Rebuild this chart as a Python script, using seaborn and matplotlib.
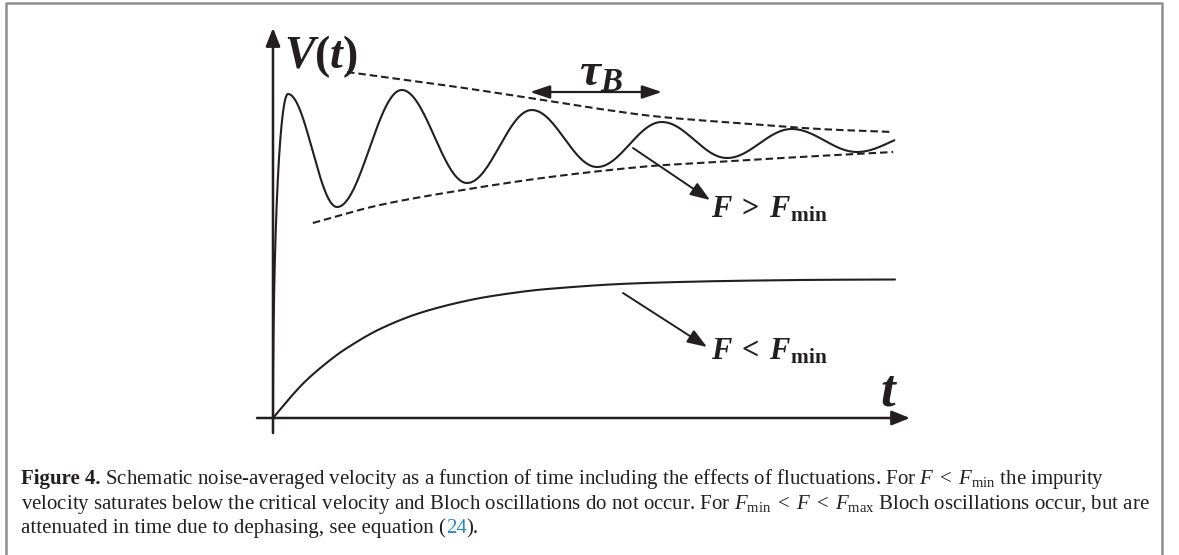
import numpy as np
import matplotlib
matplotlib.use("Agg")
import matplotlib.pyplot as plt
import seaborn as sns
from matplotlib.patches import FancyArrowPatch
from matplotlib.lines import Line2D

# ---------------- data (schematic units: t = time, V = velocity) ----------------
# extrema of the damped Bloch oscillation (F > F_min)
osc_t = [0.00, 0.24, 1.03, 2.07, 3.12, 4.16, 5.21, 6.25, 7.30, 8.34, 9.39, 10.43]
osc_v = [0.00, 3.24, 2.11, 3.28, 2.35, 3.08, 2.51, 2.96, 2.60, 2.89, 2.66, 2.85]
osc_end_t = 10.0

# dashed envelopes
upper_env_t = [1.19, 2.85, 4.13, 5.26, 6.25, 7.67, 8.79, 9.97]
upper_env_v = [3.46, 3.32, 3.20, 3.09, 3.01, 2.94, 2.89, 2.86]
lower_env_t = [0.64, 1.72, 3.05, 4.45, 5.90, 6.86, 8.47, 9.97]
lower_env_v = [1.95, 2.13, 2.28, 2.41, 2.51, 2.55, 2.61, 2.66]

# saturating velocity (F < F_min)
sat_t = [0.00, 0.27, 0.55, 0.92, 1.24, 1.72, 2.36, 3.17, 3.97, 4.61, 5.58, 6.86, 8.47, 10.00]
sat_v = [0.00, 0.20, 0.385, 0.58, 0.72, 0.89, 1.05, 1.18, 1.26, 1.30, 1.34, 1.365, 1.38, 1.385]

# labels
y_label = r"$\mathbfit{V}\mathbf{(}\mathbfit{t}\mathbf{)}$"
x_label = "t"
period_label = r"$\mathbfit{\tau}_{\mathbfit{B}}$"
label_above = r"$\mathbfit{F}\;\mathbf{>}\;\mathbfit{F}_{\mathbf{min}}$"
label_below = r"$\mathbfit{F}\;\mathbf{<}\;\mathbfit{F}_{\mathbf{min}}$"

caption_lines = [
    [("Figure 4.", "bold", None),
     (" Schematic noise-averaged velocity as a function of time including the effects of fluctuations. For $F\\;<\\;F_{\\rm min}$ the impurity", "normal", None)],
    [("velocity saturates below the critical velocity and Bloch oscillations do not occur. For $F_{\\rm min}\\;<\\;F\\;<\\;F_{\\rm max}$ Bloch oscillations occur, but are", "normal", None)],
    [("attenuated in time due to dephasing, see equation (", "normal", None),
     ("24", "normal", "#2a86c8"),
     (").", "normal", None)],
]

# ---------------- style ----------------
sns.set_theme(style="white")
plt.rcParams["font.family"] = ["Liberation Serif", "DejaVu Serif"]
plt.rcParams["mathtext.fontset"] = "custom"
plt.rcParams["mathtext.rm"] = "Liberation Serif"
plt.rcParams["mathtext.it"] = "Liberation Serif:italic"
plt.rcParams["mathtext.bf"] = "Liberation Serif:bold"
try:
    plt.rcParams["mathtext.bfit"] = "Liberation Serif:italic:bold"
except Exception:
    pass

INK = "#231f20"
W, H = 1179, 555
X0, Y0, SX, SY = 273.0, 418.0, 62.2, 100.0   # layout of the drawing area


def P(x, y):
    """pixel layout position -> data coordinates"""
    return ((x - X0) / SX, (Y0 - y) / SY)


def osc_curve(ts, vs, t_end, n=60):
    xs, ys = [], []
    # steep initial rise (vertical start, horizontal at first peak)
    s = np.linspace(0, 1, n)
    xs += list(ts[0] + (ts[1] - ts[0]) * (1 - np.cos(s * np.pi / 2)))
    ys += list(vs[0] + (vs[1] - vs[0]) * np.sin(s * np.pi / 2))
    for i in range(1, len(ts) - 1):
        s = np.linspace(0, 1, n)[1:]
        tt = ts[i] + (ts[i + 1] - ts[i]) * s
        vv = vs[i] + (vs[i + 1] - vs[i]) * (1 - np.cos(np.pi * s)) / 2
        xs += list(tt)
        ys += list(vv)
    xs, ys = np.array(xs), np.array(ys)
    keep = xs <= t_end
    return xs[keep], ys[keep]


def smooth(ts, vs, n=30):
    p = np.column_stack([ts, vs]).astype(float)
    p = np.vstack([2 * p[0] - p[1], p, 2 * p[-1] - p[-2]])
    out = []
    for i in range(1, len(p) - 2):
        p0, p1, p2, p3 = p[i - 1], p[i], p[i + 1], p[i + 2]
        for u in np.linspace(0, 1, n, endpoint=False):
            out.append(0.5 * ((2 * p1) + (-p0 + p2) * u + (2 * p0 - 5 * p1 + 4 * p2 - p3) * u ** 2
                              + (-p0 + 3 * p1 - 3 * p2 + p3) * u ** 3))
    out.append(p[-2])
    out = np.array(out)
    return out[:, 0], out[:, 1]


fig = plt.figure(figsize=(W / 100, H / 100), dpi=100)
ax = fig.add_axes([0, 0, 1, 1])
ax.set_xlim(-X0 / SX, (W - X0) / SX)
ax.set_ylim((Y0 - H) / SY, Y0 / SY)
ax.axis("off")

# curves
ox, oy = osc_curve(osc_t, osc_v, osc_end_t)
sns.lineplot(x=ox, y=oy, ax=ax, sort=False, estimator=None, color=INK, lw=1.5)
ux, uy = smooth(upper_env_t, upper_env_v)
sns.lineplot(x=ux, y=uy, ax=ax, sort=False, estimator=None, color=INK, lw=1.5,
             linestyle=(0, (3.6, 1.9)))
lx, ly = smooth(lower_env_t, lower_env_v)
sns.lineplot(x=lx, y=ly, ax=ax, sort=False, estimator=None, color=INK, lw=1.5,
             linestyle=(0, (3.6, 1.9)))
sx_, sy_ = smooth(sat_t, sat_v)
sns.lineplot(x=sx_, y=sy_, ax=ax, sort=False, estimator=None, color=INK, lw=1.5)

# axes with arrows
ax_style = "-|>,head_length=0.55,head_width=0.22"
ax.add_patch(FancyArrowPatch(P(X0, 433), P(X0, 28), arrowstyle=ax_style, mutation_scale=20,
                             color=INK, lw=1.8, shrinkA=0, shrinkB=0))
ax.add_patch(FancyArrowPatch(P(257, Y0), P(910, Y0), arrowstyle=ax_style, mutation_scale=20,
                             color=INK, lw=1.8, shrinkA=0, shrinkB=0))

# tau_B double arrow
ax.add_patch(FancyArrowPatch(P(530, 92), P(662, 92),
                             arrowstyle="<|-|>,head_length=0.6,head_width=0.2", mutation_scale=20,
                             color=INK, lw=1.6, shrinkA=0, shrinkB=0))
# pointer arrows
arr = "-|>,head_length=0.6,head_width=0.22"
ax.add_patch(FancyArrowPatch(P(633, 148), P(710, 200), arrowstyle=arr, mutation_scale=20,
                             color=INK, lw=1.4, shrinkA=0, shrinkB=0))
ax.add_patch(FancyArrowPatch(P(623, 293), P(707, 347), arrowstyle=arr, mutation_scale=20,
                             color=INK, lw=1.4, shrinkA=0, shrinkB=0))

# labels
ax.text(*P(284, 68), y_label, fontsize=33, color=INK, ha="left", va="baseline")
ax.text(*P(579, 86), period_label, fontsize=34, color=INK, ha="left", va="baseline")
ax.text(*P(711, 218), label_above, fontsize=22, color=INK, ha="left", va="baseline")
ax.text(*P(711, 360), label_below, fontsize=22, color=INK, ha="left", va="baseline")
ax.text(*P(880, 405), x_label, fontsize=38, color=INK, ha="left", va="baseline",
        fontstyle="italic", fontweight="bold")

# frame
fc = "#8e8e8e"
fig.add_artist(Line2D([6 / W, 6 / W, 1162 / W, 1162 / W], [0, 1 - 3 / H, 1 - 3 / H, 0],
                      transform=fig.transFigure, color=fc, lw=1.8))

# caption
renderer = fig.canvas.get_renderer()
baselines = [484, 509, 533]
for line, yb in zip(caption_lines, baselines):
    x = 21.0
    for s, wgt, col in line:
        t = fig.text(x / W, 1 - yb / H, s, fontsize=15.0, fontweight=wgt,
                     color=col if col else INK, ha="left", va="baseline")
        bb = t.get_window_extent(renderer)
        x += bb.width

fig.savefig("out.png", dpi=100)
